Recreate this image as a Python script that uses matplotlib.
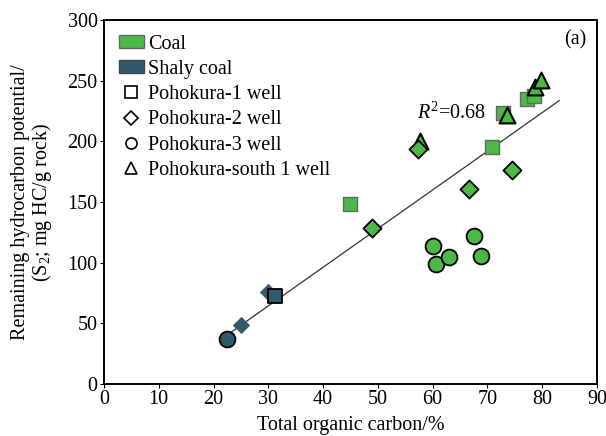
import matplotlib
matplotlib.use("Agg")
import matplotlib.pyplot as plt
import numpy as np
from matplotlib.patches import Patch
from matplotlib.lines import Line2D

plt.rcParams['font.family'] = ['Liberation Serif', 'DejaVu Serif']
plt.rcParams['mathtext.fontset'] = 'custom'
plt.rcParams['mathtext.rm'] = 'Liberation Serif'
plt.rcParams['mathtext.it'] = 'Liberation Serif:italic'

COAL = '#4cb848'
SHALY = '#2e5b6b'
FS = 14.5

# Pohokura-1 well (squares)
p1_coal_x = [44.9, 70.9, 72.9, 77.3, 78.5]
p1_coal_y = [148.4, 195.6, 223.0, 235.0, 237.4]
p1_shaly_x = [31.2]
p1_shaly_y = [72.8]

# Pohokura-2 well (diamonds)
p2_coal_x = [57.4, 74.4, 66.7, 49.0]
p2_coal_y = [193.7, 176.4, 160.4, 128.8]
p2_shaly_x = [30.0, 25.0]
p2_shaly_y = [75.6, 48.6]

# Pohokura-3 well (circles)
p3_coal_x = [60.0, 60.6, 63.0, 67.6, 68.8]
p3_coal_y = [113.7, 98.6, 104.4, 122.0, 105.5]
p3_shaly_x = [22.4]
p3_shaly_y = [36.8]

# Pohokura-south 1 well (triangles)
ps_coal_x = [73.6, 78.7, 79.7, 57.6]
ps_coal_y = [221.7, 245.0, 250.5, 200.3]

# regression line
fit_slope = 3.186
fit_intercept = -31.2
fit_x_range = [23.3, 83.1]
r2_label = '$R^2$=0.68'

fig = plt.figure(figsize=(6.06, 4.36), dpi=100)
ax = fig.add_axes([104/606, 1-384/436, (597-104)/606, (384-20)/436])

fx = np.array(fit_x_range)
ax.plot(fx, fit_slope*fx + fit_intercept, color='#333333', lw=0.9, zorder=2)

ax.scatter(p1_coal_x, p1_coal_y, marker='s', s=110, c=COAL, edgecolors='#666666', linewidths=1.0, zorder=3)
ax.scatter(p1_shaly_x, p1_shaly_y, marker='s', s=110, c=SHALY, edgecolors='black', linewidths=1.3, zorder=4)
ax.scatter(ps_coal_x, ps_coal_y, marker='^', s=130, c=COAL, edgecolors='black', linewidths=1.5, zorder=4)
ax.scatter(p2_coal_x, p2_coal_y, marker='D', s=85, c=COAL, edgecolors='black', linewidths=1.3, zorder=5)
ax.scatter(p2_shaly_x, p2_shaly_y, marker='D', s=70, c=SHALY, edgecolors='#555555', linewidths=0.5, zorder=3)
ax.scatter(p3_coal_x, p3_coal_y, marker='o', s=130, c=COAL, edgecolors='black', linewidths=1.3, zorder=5)
ax.scatter(p3_shaly_x, p3_shaly_y, marker='o', s=130, c=SHALY, edgecolors='black', linewidths=1.3, zorder=5)

ax.text(57.1, 223, r2_label, fontsize=FS, va='center', ha='left')
ax.text(88, 283.5, '(a)', fontsize=FS, va='center', ha='right')

ax.set_xlim(0, 90)
ax.set_ylim(0, 300)
ax.set_xticks(np.arange(0, 91, 10))
ax.set_yticks(np.arange(0, 301, 50))
ax.tick_params(direction='out', length=3, width=0.8, labelsize=FS, pad=1.5)
for sp in ax.spines.values():
    sp.set_linewidth(1.4)

ax.set_xlabel('Total organic carbon/%', fontsize=FS, labelpad=5)
ax.set_ylabel('Remaining hydrocarbon potential/\n(S$_2$; mg HC/g rock)', fontsize=FS, labelpad=10, linespacing=1.0)

handles = [
    Patch(facecolor=COAL, edgecolor='#666666', label='Coal'),
    Patch(facecolor=SHALY, edgecolor='#444444', label='Shaly coal'),
    Line2D([], [], marker='s', ls='none', mfc='white', mec='black', ms=8, mew=1.2, label='Pohokura-1 well'),
    Line2D([], [], marker='D', ls='none', mfc='white', mec='black', ms=7, mew=1.2, label='Pohokura-2 well'),
    Line2D([], [], marker='o', ls='none', mfc='white', mec='black', ms=8, mew=1.2, label='Pohokura-3 well'),
    Line2D([], [], marker='^', ls='none', mfc='white', mec='black', ms=9, mew=1.2, label='Pohokura-south 1 well'),
]
ax.legend(handles=handles, loc='upper left', frameon=False, fontsize=FS,
          handlelength=1.25, handleheight=0.6, handletextpad=0.2, labelspacing=0.31,
          borderaxespad=0.0, borderpad=0.0, bbox_to_anchor=(0.03, 0.96))

fig.savefig('out.png', dpi=100)
